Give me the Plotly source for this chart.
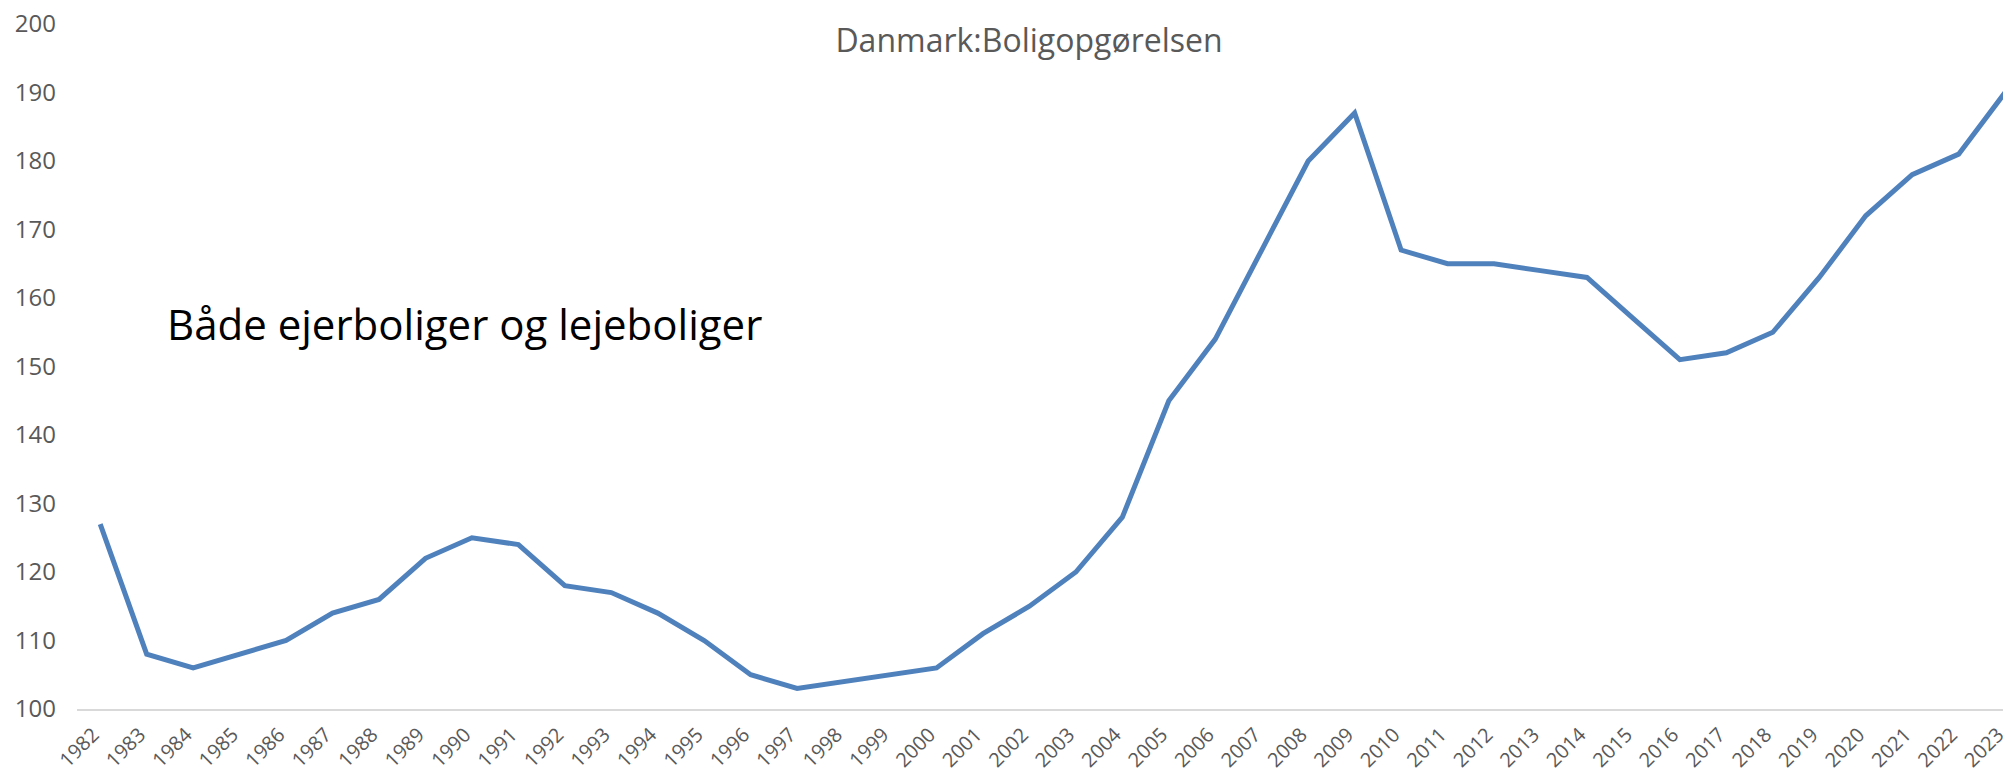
import plotly.graph_objects as go

years = list(range(1982, 2024))
values = [127, 108, 106, 108, 110, 114, 116, 122, 125, 124,
          118, 117, 114, 110, 105, 103, 104, 105, 106, 111,
          115, 120, 128, 145, 154, 167, 180, 187, 167, 165,
          165, 164, 163, 157, 151, 152, 155, 163, 172, 178,
          181, 190]
y_ticks = [100, 110, 120, 130, 140, 150, 160, 170, 180, 190, 200]
title_text = "Danmark:Boligopgørelsen"
note_text = "Både ejerboliger og lejeboliger"

# page has an 8px body margin; figure sized to fit the window
W, H = 2003, 769
fig = go.Figure()
fig.add_trace(go.Scatter(x=years, y=values, mode="lines",
                         line=dict(color="#4F81BD", width=5),
                         hoverinfo="x+y", showlegend=False))

fig.update_layout(
    width=W, height=H,
    margin=dict(l=69, r=0, t=16, b=68, autoexpand=False),
    paper_bgcolor="white", plot_bgcolor="white",
    font=dict(family="Open Sans", color="#595959"),
    title=dict(text=title_text, x=1021 / W, xanchor="center",
               y=1 - 33 / H, yanchor="middle",
               font=dict(family="Open Sans", size=32, color="#595959")),
    xaxis=dict(range=[1981.5, 1981.5 + 1934 / 46.46], tickmode="array",
               tickvals=years, ticktext=[str(y) for y in years],
               tickangle=-45, tickfont=dict(size=20, color="#595959"),
               showgrid=False, zeroline=False, showline=True,
               linecolor="#d9d9d9", linewidth=2, ticks="",
               automargin=False, ticklabeloverflow="allow",
               ticklabelstandoff=4, ticklabelshift=-7),
    yaxis=dict(range=[100, 200], tickmode="array", tickvals=y_ticks,
               tickfont=dict(size=24, color="#595959"),
               showgrid=False, zeroline=False, showline=False,
               ticks="", ticklabelstandoff=20, automargin=False,
               ticklabeloverflow="allow"),
    annotations=[dict(text=note_text, xref="paper", yref="paper",
                      x=(165 - 77) / 1934, y=(709 - 323) / 685,
                      xanchor="left", yanchor="middle", showarrow=False,
                      font=dict(family="Open Sans", size=42, color="black"))],
)

fig.write_html("out.html")
